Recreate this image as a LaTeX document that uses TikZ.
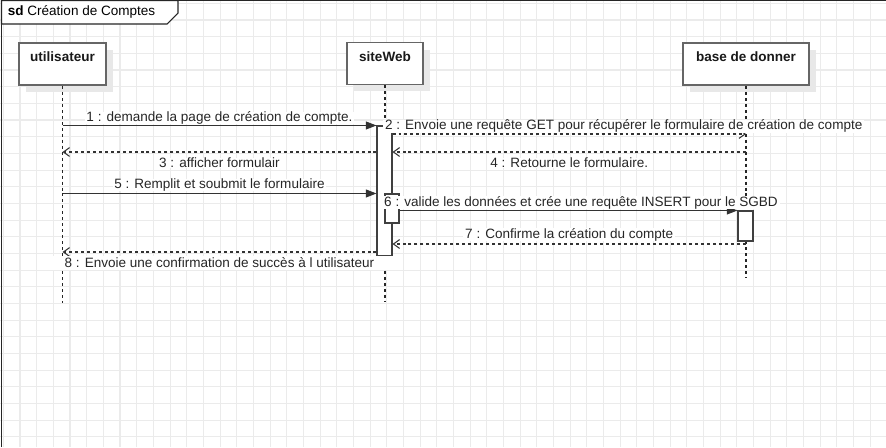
\documentclass[tikz,border=0pt]{standalone}
\usepackage{fontspec}
\setmainfont{Liberation Sans}
\usepackage{tikz}
\usetikzlibrary{arrows.meta}
\usetikzlibrary{shadows}

\tikzset{
    gridline/.style={draw=black!8, line width=0.6pt},
    head/.style={shape=rectangle, draw=black!60, line width=1.1pt, fill=white, minimum height=0.84cm, inner sep=0pt,
        drop shadow={shadow xshift=0.14cm, shadow yshift=-0.14cm, fill=black!9, opacity=1}},
    headtxt/.style={font=\fontsize{7.7}{9}\selectfont\bfseries, anchor=north, inner sep=0pt, yshift=-5.5pt, text=black!90},
    lifeline/.style={draw=black!85, line width=0.6pt, dash pattern=on 1.7pt off 1.7pt},
    actbox/.style={shape=rectangle, draw=black!75, line width=0.6pt, fill=white, inner sep=0pt},
    msg/.style={draw=black!80, line width=0.6pt, -{Triangle[length=6pt, width=4.5pt]}},
    reply/.style={draw=black!80, line width=0.6pt, dash pattern=on 1.7pt off 1.7pt, -{Straight Barb[length=3.5pt, width=5pt]}},
    msgtxt/.style={fill=white, inner xsep=1pt, inner ysep=0pt, text=black!85}
}

\begin{document}
\begin{tikzpicture}[x=0.02cm, y=-0.02cm, font=\fontsize{7.7}{9}\selectfont]
    \useasboundingbox (0,0) rectangle (886,447);

    % grid
    \foreach \i in {0,...,53}
        \draw[gridline] ({3.33+16.67*\i},0) -- ({3.33+16.67*\i},447);
    \foreach \j in {0,...,26}
        \draw[gridline] (0,{3.33+16.67*\j}) -- (886,{3.33+16.67*\j});

    % frame
    \draw[black!85, line width=1.1pt] (1.5,447) -- (1.5,0.5) -- (886,0.5);
    \draw[black!85, line width=0.6pt, fill=white] (1.5,0.5) -- (178,0.5) -- (178,13) -- (167,24) -- (1.5,24) -- cycle;
    \node[anchor=west, inner sep=0pt] (title) at (7.5,12) {\textbf{sd}\ Création de Comptes};

    % lifelines
    \node[head, minimum width=1.74cm, label={[headtxt]north:utilisateur}] (user) at (62.5,64) {};
    \node[head, minimum width=1.53cm, label={[headtxt]north:siteWeb}] (web) at (385,63.5) {};
    \node[head, minimum width=2.53cm, label={[headtxt]north:base de donner}] (base) at (746,64) {};

    \coordinate (userEnd) at (62.5,303);
    \coordinate (webEnd) at (385,302);
    \coordinate (baseEnd) at (746,278);
    \draw[lifeline] (user) -- (userEnd);
    \draw[lifeline] (web) -- (webEnd);
    \draw[lifeline] (base) -- (baseEnd);

    % activations
    \node[actbox, minimum width=0.3cm, minimum height=2.6cm] (webAct) at (384.5,191) {};
    \node[actbox, minimum width=0.28cm, minimum height=0.58cm] (webSub) at (392,208.5) {};
    \node[actbox, minimum width=0.3cm, minimum height=0.6cm] (baseAct) at (745.5,226) {};

    % message levels
    \coordinate (y2) at (0,134);
    \coordinate (y3) at (0,152);
    \coordinate (y7) at (0,244);
    \coordinate (y8) at (0,252);

    % messages
    \draw[msg] (user |- webAct.north) -- (webAct.north west) node[msgtxt, midway, above=0.3pt] {1 : demande la page de création de compte.};
    \draw[reply] (webAct.east |- y2) -- (base |- y2) node[msgtxt, pos=0, above right=0.5pt, xshift=-6pt] {2 : Envoie une requête GET pour récupérer le formulaire de création de compte};
    \draw[reply] (webAct.west |- y3) -- (user |- y3) node[msgtxt, midway, below=3pt] {3 : afficher formulair};
    \draw[reply] (base |- y3) -- (webAct.east |- y3) node[msgtxt, midway, below=3pt] {4 : Retourne le formulaire.};
    \draw[msg] (user |- webSub.north) -- (webAct.west |- webSub.north) node[msgtxt, midway, above=1pt] {5 : Remplit et soubmit le formulaire};
    \draw[msg] (webSub.east |- baseAct.north) -- (baseAct.north west) node[msgtxt, pos=0, above right=0.5pt, xshift=-10.5pt] {6 : valide les données et crée une requête INSERT pour le SGBD};
    \draw[reply] (base |- y7) -- (webAct.east |- y7) node[msgtxt, midway, above=1.5pt] {7 : Confirme la création du compte};
    \draw[reply] (webAct.west |- y8) -- (user |- y8) node[msgtxt, midway, below=2pt, inner xsep=16pt, inner ysep=1pt] {8 : Envoie une confirmation de succès à l utilisateur};

\end{tikzpicture}
\end{document}
